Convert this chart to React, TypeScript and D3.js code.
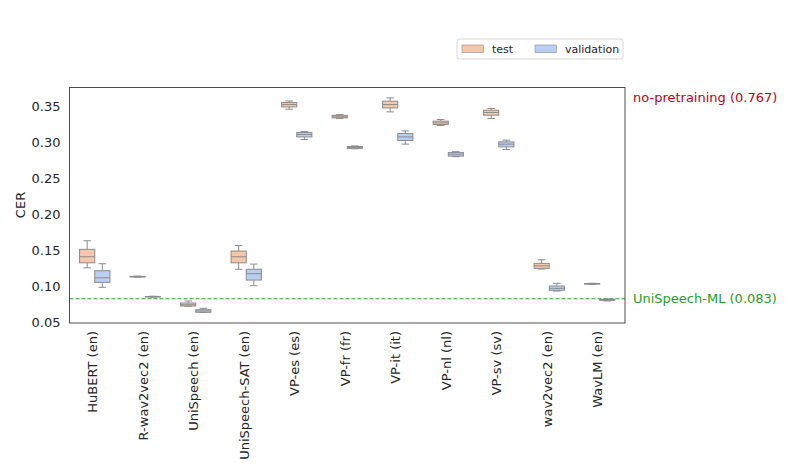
import React from "react";
import * as d3 from "d3";

// five-number summaries: [whiskerLow, q1, median, q3, whiskerHigh]
const categories = [
    "HuBERT (en)", "R-wav2vec2 (en)", "UniSpeech (en)", "UniSpeech-SAT (en)",
    "VP-es (es)", "VP-fr (fr)", "VP-it (it)", "VP-nl (nl)", "VP-sv (sv)",
    "wav2vec2 (en)", "WavLM (en)"
];

const testStats: number[][] = [
    [0.126, 0.133, 0.1414, 0.1517, 0.1636],
    [0.1130, 0.1133, 0.1137, 0.1141, 0.1145],
    [0.0725, 0.0729, 0.0747, 0.0771, 0.0799],
    [0.124, 0.133, 0.1414, 0.1493, 0.157],
    [0.3465, 0.3497, 0.353, 0.3558, 0.358],
    [0.3335, 0.3345, 0.336, 0.338, 0.339],
    [0.3428, 0.3483, 0.353, 0.3577, 0.3622],
    [0.3239, 0.3253, 0.3275, 0.3299, 0.3322],
    [0.3336, 0.3382, 0.342, 0.3451, 0.3475],
    [0.1243, 0.1253, 0.1289, 0.1322, 0.1372],
    [0.1030, 0.1034, 0.1038, 0.1042, 0.1046]
];

const valStats: number[][] = [
    [0.0989, 0.1058, 0.1122, 0.122, 0.1317],
    [0.0854, 0.0856, 0.0859, 0.0862, 0.0865],
    [0.0640, 0.0642, 0.066, 0.0678, 0.0697],
    [0.1011, 0.109, 0.1178, 0.124, 0.1312],
    [0.3044, 0.308, 0.3114, 0.3142, 0.3156],
    [0.2915, 0.292, 0.2935, 0.2947, 0.2955],
    [0.298, 0.303, 0.308, 0.3128, 0.3164],
    [0.2805, 0.2813, 0.284, 0.2864, 0.2875],
    [0.2905, 0.2942, 0.2979, 0.3011, 0.3035],
    [0.0937, 0.0947, 0.0975, 0.1007, 0.1044],
    [0.0800, 0.0808, 0.0814, 0.0822, 0.0828]
];

const yTicks = [0.05, 0.10, 0.15, 0.20, 0.25, 0.30, 0.35];
const seriesNames = ["test", "validation"];
const uniSpeechML = 0.083;
const noPretraining = 0.767;

const width = 793;
const height = 476;
const margin = {left: 69.5, right: 168, top: 87.5, bottom: 153};

const colors = ["#f5c6a7", "#b8cef2"];
const edge = "#8c8c8c";
const font = "DejaVu Sans, sans-serif";

export default function App() {
    const x = d3.scaleBand<string>()
        .domain(categories)
        .range([margin.left, width - margin.right])
        .padding(0);

    const y = d3.scaleLinear()
        .domain([0.0493, 0.3767])
        .range([height - margin.bottom, margin.top]);

    const boxW = x.bandwidth() * 0.3;
    const capW = boxW / 2;

    function box(s: number[], cx: number, fill: string, key: string) {
        const [lo, q1, med, q3, hi] = s;
        return (
            <g key={key}>
                <line x1={cx} x2={cx} y1={y(q3)} y2={y(hi)} stroke={edge} strokeWidth={1}/>
                <line x1={cx} x2={cx} y1={y(q1)} y2={y(lo)} stroke={edge} strokeWidth={1}/>
                <line x1={cx - capW / 2} x2={cx + capW / 2} y1={y(hi)} y2={y(hi)} stroke={edge} strokeWidth={1}/>
                <line x1={cx - capW / 2} x2={cx + capW / 2} y1={y(lo)} y2={y(lo)} stroke={edge} strokeWidth={1}/>
                <rect x={cx - boxW / 2} y={y(q3)} width={boxW} height={Math.max(0.5, y(q1) - y(q3))}
                      fill={fill} stroke={edge} strokeWidth={1}/>
                <line x1={cx - boxW / 2} x2={cx + boxW / 2} y1={y(med)} y2={y(med)} stroke={edge} strokeWidth={1}/>
            </g>
        );
    }

    const x0 = margin.left;
    const x1 = width - margin.right;
    const yB = height - margin.bottom;

    return (
        <svg width={width} height={height} style={{position: "absolute", left: 0, top: 0, background: "white"}}
             fontFamily={font}>
            {/* y tick labels */}
            {yTicks.map(t => (
                <text key={t} x={x0 - 9} y={y(t)} dy="0.35em" textAnchor="end" fontSize={13} fill="#262626">
                    {t.toFixed(2)}
                </text>
            ))}
            <text transform={`translate(20,205) rotate(-90)`} textAnchor="middle"
                  dy="0.35em" fontSize={13} fill="#262626">CER</text>

            {/* x tick labels */}
            {categories.map(c => (
                <text key={c} transform={`translate(${x(c)! + x.bandwidth() / 2 - 2},${yB + 8}) rotate(-90)`}
                      textAnchor="end" dy="0.35em" fontSize={13} fill="#262626">{c}</text>
            ))}

            {/* reference line */}
            <line x1={x0} x2={x1} y1={y(uniSpeechML)} y2={y(uniSpeechML)} stroke="#2ca02c" strokeWidth={1.1}
                  strokeDasharray="4,2"/>

            {categories.map((c, i) => {
                const cx = x(c)! + x.bandwidth() / 2;
                return (
                    <g key={c}>
                        {box(testStats[i], cx - boxW / 2, colors[0], "t")}
                        {box(valStats[i], cx + boxW / 2, colors[1], "v")}
                    </g>
                );
            })}

            {/* frame */}
            <rect x={x0} y={margin.top} width={x1 - x0} height={yB - margin.top} fill="none" stroke="#4d4d4d"
                  strokeWidth={1}/>

            {/* annotations */}
            <text x={x1 + 8} y={97.5} dy="0.35em" fontSize={13} fill="#c0001c">
                {`no-pretraining (${noPretraining.toFixed(3)})`}
            </text>
            <text x={x1 + 8} y={y(uniSpeechML)} dy="0.35em" fontSize={13} fill="#24a024">
                {`UniSpeech-ML (${uniSpeechML.toFixed(3)})`}
            </text>

            {/* legend */}
            <g>
                <rect x={457} y={39} width={166} height={20} rx={2.5} fill="white" stroke="#d6d6d6"/>
                {seriesNames.map((n, i) => {
                    const lx = i === 0 ? 462 : 535;
                    return (
                        <g key={n}>
                            <rect x={lx} y={45} width={21.5} height={7.5} fill={colors[i]} stroke={edge}
                                  strokeWidth={0.6}/>
                            <text x={lx + 30} y={49} dy="0.35em" fontSize={11} fill="#262626">{n}</text>
                        </g>
                    );
                })}
            </g>
        </svg>
    );
}
